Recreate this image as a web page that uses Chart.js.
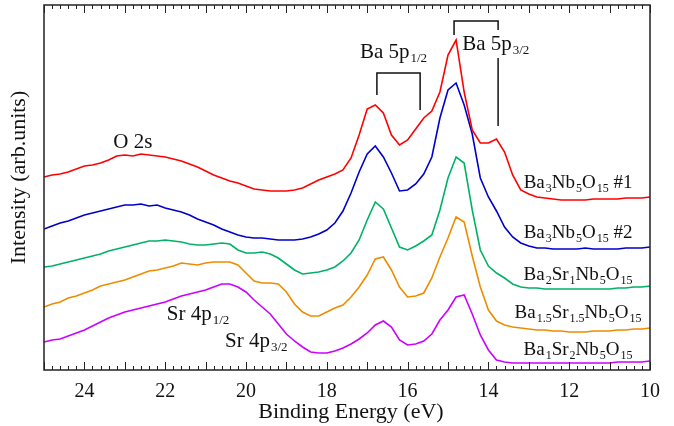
<!DOCTYPE html>
<html>
<head>
<meta charset="utf-8">
<title>Valence band spectra</title>
<script src="https://cdn.jsdelivr.net/npm/chart.js@4.4.1/dist/chart.umd.min.js"></script>
<style>
  html, body { margin: 0; padding: 0; background: #fff; }
</style>
</head>
<body>
<canvas id="vbChart" width="674" height="426"></canvas>
<script>
// binding energy (eV), 0.2 eV steps from 25 down to 10
const energies = [
  25.0, 24.8, 24.6, 24.4, 24.2, 24.0, 23.8, 23.6, 23.4, 23.2,
  23.0, 22.8, 22.6, 22.4, 22.2, 22.0, 21.8, 21.6, 21.4, 21.2,
  21.0, 20.8, 20.6, 20.4, 20.2, 20.0, 19.8, 19.6, 19.4, 19.2,
  19.0, 18.8, 18.6, 18.4, 18.2, 18.0, 17.8, 17.6, 17.4, 17.2,
  17.0, 16.8, 16.6, 16.4, 16.2, 16.0, 15.8, 15.6, 15.4, 15.2,
  15.0, 14.8, 14.6, 14.4, 14.2, 14.0, 13.8, 13.6, 13.4, 13.2,
  13.0, 12.8, 12.6, 12.4, 12.2, 12.0, 11.8, 11.6, 11.4, 11.2,
  11.0, 10.8, 10.6, 10.4, 10.2, 10.0
];

// intensities (arb. units, curves already offset as in the figure)
const ba3Nb5_1 = [
  193, 195, 196, 198, 201, 204, 205, 207, 210, 214,
  215, 214, 216, 215, 214, 213, 211, 209, 206, 203,
  199, 195, 192, 189, 187, 184, 181, 180, 179, 179,
  179, 180, 182, 186, 190, 193, 196, 200, 212, 235,
  261, 265, 257, 235, 225, 230, 241, 252, 259, 278,
  315, 330, 278, 240, 227, 227, 231, 218, 195, 180,
  176, 173, 172, 171, 170, 170, 170, 170, 171, 171,
  171, 171, 172, 172, 172, 173
];
const ba3Nb5_2 = [
  141, 144, 147, 149, 152, 155, 157, 159, 161, 163,
  165, 165, 166, 164, 165, 162, 160, 158, 155, 151,
  148, 145, 141, 138, 135, 133, 132, 132, 131, 130,
  130, 130, 131, 133, 136, 140, 147, 159, 177, 198,
  216, 224, 213, 197, 179, 180, 186, 196, 213, 252,
  280, 287, 265, 236, 192, 173, 159, 143, 133, 127,
  124, 122, 122, 121, 121, 121, 121, 122, 121, 121,
  121, 121, 122, 122, 122, 123
];
const ba2Sr1 = [
  103, 104, 106, 108, 110, 112, 114, 116, 119, 121,
  123, 125, 127, 129, 129, 130, 129, 128, 126, 125,
  125, 126, 127, 126, 120, 117, 117, 118, 116, 112,
  106, 100, 96, 97, 98, 100, 103, 109, 117, 130,
  150, 168, 161, 142, 123, 120, 124, 129, 135, 160,
  192, 213, 207, 160, 120, 104, 97, 92, 86, 83,
  82, 82, 81, 81, 81, 81, 81, 81, 81, 81,
  81, 82, 82, 83, 83, 84
];
const ba15Sr15 = [
  63, 66, 68, 72, 74, 77, 80, 84, 86, 88,
  90, 93, 96, 99, 100, 102, 104, 107, 106, 105,
  107, 108, 108, 108, 105, 97, 89, 87, 87, 86,
  78, 66, 58, 54, 54, 58, 62, 65, 73, 83,
  95, 111, 113, 100, 83, 73, 74, 77, 92, 113,
  132, 153, 148, 114, 83, 60, 49, 45, 43, 42,
  41, 40, 40, 39, 39, 38, 38, 38, 39, 39,
  39, 40, 40, 41, 41, 42
];
const ba1Sr2 = [
  28, 30, 31, 34, 37, 40, 44, 48, 52, 55,
  58, 60, 62, 64, 66, 68, 71, 74, 76, 78,
  80, 83, 86, 86, 83, 78, 70, 63, 56, 46,
  36, 29, 23, 18, 17, 17, 19, 22, 26, 31,
  37, 45, 49, 43, 30, 25, 26, 29, 36, 50,
  60, 73, 75, 56, 35, 20, 10, 8, 7, 7,
  7, 7, 7, 7, 7, 7, 7, 7, 7, 7,
  7, 8, 8, 8, 8, 9
];

const seriesNames = ['Ba3Nb5O15 #1', 'Ba3Nb5O15 #2', 'Ba2Sr1Nb5O15', 'Ba1.5Sr1.5Nb5O15', 'Ba1Sr2Nb5O15'];
const seriesValues = [ba3Nb5_1, ba3Nb5_2, ba2Sr1, ba15Sr15, ba1Sr2];
const seriesColors = ['#ff0000', '#0000cc', '#00b266', '#ee8c00', '#cc00ff'];

// x tick labels shown under the axis
const tickLabels = [24, 22, 20, 18, 16, 14, 12, 10];

const serif = "'Liberation Serif', 'Times New Roman', serif";

// text labels in data coordinates; [text, isSubscript]
const textLabels = [
  { parts: [['O 2s', 0]], e: 22.80, v: 222, align: 'center', size: 21 },
  { parts: [['Sr 4p', 0], ['1/2', 1]], e: 21.96, v: 50, align: 'left', size: 21 },
  { parts: [['Sr 4p', 0], ['3/2', 1]], e: 20.52, v: 23, align: 'left', size: 21 },
  { parts: [['Ba 5p', 0], ['1/2', 1]], e: 17.18, v: 312, align: 'left', size: 21 },
  { parts: [['Ba 5p', 0], ['3/2', 1]], e: 14.65, v: 320, align: 'left', size: 21 },
  { parts: [['Ba', 0], ['3', 1], ['Nb', 0], ['5', 1], ['O', 0], ['15', 1], [' #1', 0]], e: 11.78, v: 182, align: 'center', size: 19 },
  { parts: [['Ba', 0], ['3', 1], ['Nb', 0], ['5', 1], ['O', 0], ['15', 1], [' #2', 0]], e: 11.78, v: 132, align: 'center', size: 19 },
  { parts: [['Ba', 0], ['2', 1], ['Sr', 0], ['1', 1], ['Nb', 0], ['5', 1], ['O', 0], ['15', 1]], e: 11.78, v: 90, align: 'center', size: 19 },
  { parts: [['Ba', 0], ['1.5', 1], ['Sr', 0], ['1.5', 1], ['Nb', 0], ['5', 1], ['O', 0], ['15', 1]], e: 11.78, v: 52, align: 'center', size: 19 },
  { parts: [['Ba', 0], ['1', 1], ['Sr', 0], ['2', 1], ['Nb', 0], ['5', 1], ['O', 0], ['15', 1]], e: 11.78, v: 15, align: 'center', size: 19 }
];

// peak-marker brackets, polylines in data coordinates [energy, value]
const brackets = [
  [[16.76, 275], [16.76, 297], [15.69, 297], [15.69, 260]],
  [[14.85, 335], [14.85, 349], [13.76, 349], [13.76, 340]],
  [[13.76, 312], [13.76, 244]]
];

function drawParts(ctx, parts, x, y, align, size) {
  const subSize = Math.round(size * 0.64);
  let total = 0;
  const widths = parts.map(([txt, sub]) => {
    ctx.font = (sub ? subSize : size) + 'px ' + serif;
    const w = ctx.measureText(txt).width + (sub ? 1 : 0);
    total += w;
    return w;
  });
  let cx = align === 'center' ? x - total / 2 : x;
  parts.forEach(([txt, sub], i) => {
    ctx.font = (sub ? subSize : size) + 'px ' + serif;
    ctx.fillText(txt, cx + (sub ? 1 : 0), sub ? y + 4 : y);
    cx += widths[i];
  });
}

const overlayPlugin = {
  id: 'overlay',
  afterDraw(chart) {
    const ctx = chart.ctx;
    const xs = chart.scales.x;
    const ys = chart.scales.y;
    const area = chart.chartArea;
    ctx.save();

    // frame
    ctx.strokeStyle = '#222';
    ctx.lineWidth = 1.5;
    ctx.strokeRect(area.left, area.top, area.right - area.left, area.bottom - area.top);

    // inward ticks on bottom and top
    ctx.lineWidth = 1;
    xs.ticks.forEach(t => {
      const px = Math.round(xs.getPixelForValue(t.value)) + 0.5;
      const major = Math.abs(t.value - Math.round(t.value)) < 1e-6;
      const len = major ? 8 : 4;
      ctx.beginPath();
      ctx.moveTo(px, area.bottom);
      ctx.lineTo(px, area.bottom - len);
      ctx.moveTo(px, area.top);
      ctx.lineTo(px, area.top + len);
      ctx.stroke();
    });

    // tick labels and x title
    ctx.fillStyle = '#111';
    ctx.textAlign = 'center';
    ctx.textBaseline = 'middle';
    ctx.font = '20px ' + serif;
    tickLabels.forEach(v => {
      ctx.fillText(String(v), xs.getPixelForValue(v), area.bottom + 22);
    });
    ctx.font = '22px ' + serif;
    ctx.fillText('Binding Energy (eV)', (area.left + area.right) / 2 + 4, area.bottom + 42);

    // brackets
    ctx.lineWidth = 1.5;
    ctx.strokeStyle = '#111';
    brackets.forEach(line => {
      ctx.beginPath();
      line.forEach(([e, v], i) => {
        const px = xs.getPixelForValue(e), py = ys.getPixelForValue(v);
        if (i === 0) ctx.moveTo(px, py); else ctx.lineTo(px, py);
      });
      ctx.stroke();
    });

    // text labels
    ctx.textBaseline = 'alphabetic';
    ctx.textAlign = 'left';
    textLabels.forEach(l => {
      drawParts(ctx, l.parts, xs.getPixelForValue(l.e), ys.getPixelForValue(l.v), l.align, l.size);
    });

    // y axis title
    ctx.translate(19, (area.top + area.bottom) / 2 - 10);
    ctx.rotate(-Math.PI / 2);
    ctx.font = '22px ' + serif;
    ctx.textAlign = 'center';
    ctx.textBaseline = 'middle';
    ctx.fillText('Intensity (arb.units)', 0, 0);
    ctx.restore();
  }
};

const ctx = document.getElementById('vbChart').getContext('2d');
new Chart(ctx, {
  type: 'line',
  data: {
    datasets: seriesValues.map((vals, i) => ({
      label: seriesNames[i],
      data: energies.map((e, j) => ({ x: e, y: vals[j] })),
      borderColor: seriesColors[i],
      borderWidth: 1.6,
      pointRadius: 0,
      tension: 0,
      fill: false
    }))
  },
  options: {
    responsive: false,
    animation: false,
    layout: { padding: { left: 44, right: 24, top: 5, bottom: 56 } },
    plugins: {
      legend: { display: false },
      tooltip: { enabled: false }
    },
    scales: {
      x: {
        type: 'linear',
        reverse: true,
        min: 10,
        max: 25,
        grid: { display: false, drawTicks: false },
        border: { display: false },
        ticks: {
          stepSize: 0.2,
          autoSkip: false,
          display: false
        },
        title: { display: false }
      },
      y: {
        display: false,
        min: 0,
        max: 365
      }
    }
  },
  plugins: [overlayPlugin]
});
</script>
</body>
</html>
